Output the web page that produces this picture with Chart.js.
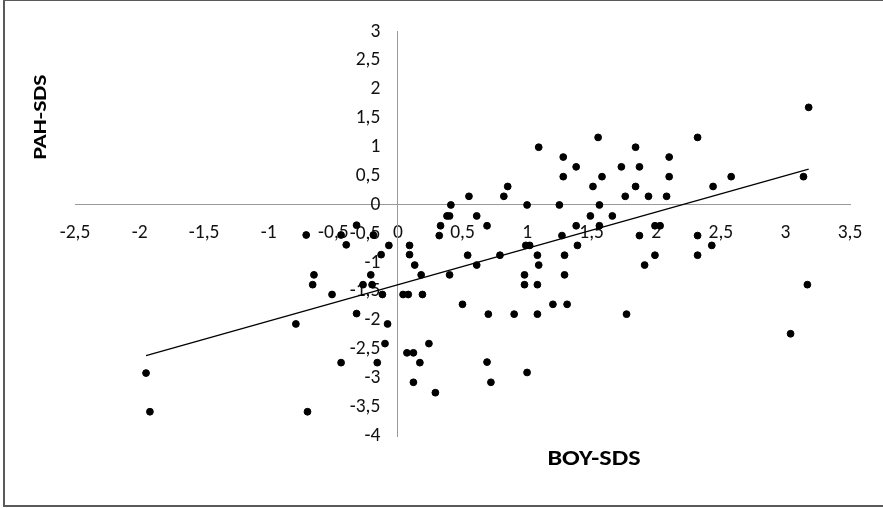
<!DOCTYPE html>
<html>
<head>
<meta charset="utf-8">
<script src="https://cdn.jsdelivr.net/npm/chart.js@4.4.1/dist/chart.umd.min.js"></script>
<style>
  html, body { margin: 0; padding: 0; background: #fff; }
  #wrap { position: relative; width: 883px; height: 508px; overflow: hidden; }
  #frame { position: absolute; left: 3px; top: -1px; width: 900px; height: 508px;
           border: 2px solid #5a5a5a; box-sizing: border-box; pointer-events: none; }
</style>
</head>
<body>
<div id="wrap">
  <canvas id="scatter" width="883" height="508"></canvas>
  <div id="frame"></div>
</div>
<script>
// BOY-SDS (x) vs PAH-SDS (y)
const boySds = [
  -1.95, -1.92, -0.79, -0.71, -0.70, -0.65, -0.66, -0.51, -0.44, -0.40,
  -0.32, -0.19, -0.07, -0.13, 0.09, 0.09, 0.13, 0.18, -0.21, -0.27,
  -0.20, -0.12, 0.04, 0.08, 0.19, -0.32, -0.08, -0.10, 0.24, -0.44,
  -0.16, 0.07, 0.12, 0.17, 0.12, 0.29,
  1.55, 1.09, 1.84, 1.28, 2.10, 1.38, 1.73, 1.87, 1.28, 1.58,
  2.10, 0.85, 1.51, 1.84, 0.55, 0.82, 1.76, 1.94, 2.08, 0.41,
  1.00, 1.25, 1.56, 0.38, 0.40, 0.61, 1.49, 1.66, 0.33, 0.69,
  1.38, 1.56, 1.99, 2.03, 0.32, 1.27, 1.87, 2.32, 0.99, 1.02,
  1.39, 2.43, 0.54, 0.79, 1.08, 1.29, 1.99, 2.32, 0.40, 0.61,
  1.09, 1.91, 0.98, 1.29, 0.98, 1.08, 0.50, 1.20, 1.31, 0.70,
  0.90, 1.08, 1.77, 0.69, 1.00, 0.72, 2.32, 3.18, 2.44, 2.58,
  3.14, 3.17, 3.04
];
const pahSds = [
  -2.91, -3.58, -2.06, -0.52, -3.58, -1.21, -1.38, -1.55, -0.52, -0.69,
  -0.35, -0.52, -0.70, -0.86, -0.70, -0.86, -1.04, -1.21, -1.21, -1.38,
  -1.38, -1.55, -1.55, -1.55, -1.55, -1.88, -2.06, -2.40, -2.40, -2.73,
  -2.73, -2.56, -2.56, -2.73, -3.07, -3.25,
  1.17, 1.00, 1.00, 0.83, 0.83, 0.66, 0.66, 0.66, 0.49, 0.49,
  0.49, 0.32, 0.32, 0.32, 0.15, 0.15, 0.15, 0.15, 0.15, 0.00,
  0.00, 0.00, 0.00, -0.19, -0.19, -0.19, -0.19, -0.19, -0.36, -0.36,
  -0.36, -0.36, -0.36, -0.36, -0.53, -0.53, -0.53, -0.53, -0.70, -0.70,
  -0.70, -0.70, -0.87, -0.87, -0.87, -0.87, -0.87, -0.87, -1.21, -1.04,
  -1.04, -1.04, -1.21, -1.21, -1.38, -1.38, -1.72, -1.72, -1.72, -1.89,
  -1.89, -1.89, -1.89, -2.72, -2.90, -3.07, 1.17, 1.69, 0.32, 0.49,
  0.49, -1.38, -2.23
];

// linear trend line end points
const trendX = [-1.95, 3.18];
const trendY = [-2.61, 0.62];

const xTickLabels = ['-2,5', '-2', '-1,5', '-1', '-0,5', '0', '0,5', '1', '1,5', '2', '2,5', '3', '3,5'];
const yTickLabels = ['-4', '-3,5', '-3', '-2,5', '-2', '-1,5', '-1', '-0,5', '0', '0,5', '1', '1,5', '2', '2,5', '3'];

const tickFont = { family: "Carlito, Calibri, Lato, sans-serif", size: 19.5 };
const titleFamily = "Carlito, Calibri, 'Open Sans', sans-serif";

// axis titles sit away from the axes, like in the original sheet
const axisTitles = {
  id: 'axisTitles',
  afterDraw(chart) {
    const ctx = chart.ctx;
    ctx.save();
    ctx.fillStyle = '#000';
    ctx.textAlign = 'center';
    ctx.textBaseline = 'middle';
    ctx.font = `bold 23px ${titleFamily}`;
    ctx.save();
    ctx.translate(594, 459);
    ctx.scale(1.14, 1);
    ctx.fillText('BOY-SDS', 0, 0);
    ctx.restore();
    ctx.translate(41, 117);
    ctx.rotate(-Math.PI / 2);
    ctx.scale(1.25, 1);
    ctx.font = `bold 19px ${titleFamily}`;
    ctx.fillText('PAH-SDS', 0, 0);
    ctx.restore();
  }
};

const ctx = document.getElementById('scatter').getContext('2d');
new Chart(ctx, {
  type: 'scatter',
  data: {
    datasets: [
      {
        label: 'PAH-SDS',
        data: boySds.map((x, i) => ({ x: x, y: pahSds[i] })),
        backgroundColor: '#000',
        borderColor: '#000',
        pointRadius: 3.4,
        pointHoverRadius: 3.4
      },
      {
        label: 'Linear',
        data: trendX.map((x, i) => ({ x: x, y: trendY[i] })),
        showLine: true,
        borderColor: '#000',
        borderWidth: 1.3,
        pointRadius: 0
      }
    ]
  },
  options: {
    responsive: false,
    animation: false,
    layout: { padding: { left: 75, right: 33, top: 30, bottom: 72 } },
    plugins: {
      legend: { display: false },
      tooltip: { enabled: false }
    },
    scales: {
      x: {
        type: 'linear',
        position: { y: 0 },
        min: -2.5,
        max: 3.5,
        ticks: {
          stepSize: 0.5,
          color: '#111',
          font: tickFont,
          padding: 16,
          maxRotation: 0,
          autoSkip: false,
          callback: (v, i) => xTickLabels[i]
        },
        grid: { drawOnChartArea: false, drawTicks: false },
        border: { color: '#9a9a9a', width: 1 }
      },
      y: {
        type: 'linear',
        position: { x: 0 },
        min: -4,
        max: 3,
        ticks: {
          stepSize: 0.5,
          color: '#111',
          font: tickFont,
          padding: 20,
          autoSkip: false,
          // trailing spaces keep the labels clear of the axis line
          callback: (v, i) => yTickLabels[i] + '    '
        },
        grid: { drawOnChartArea: false, drawTicks: false },
        border: { color: '#9a9a9a', width: 1 }
      }
    }
  },
  plugins: [axisTitles]
});
</script>
</body>
</html>
